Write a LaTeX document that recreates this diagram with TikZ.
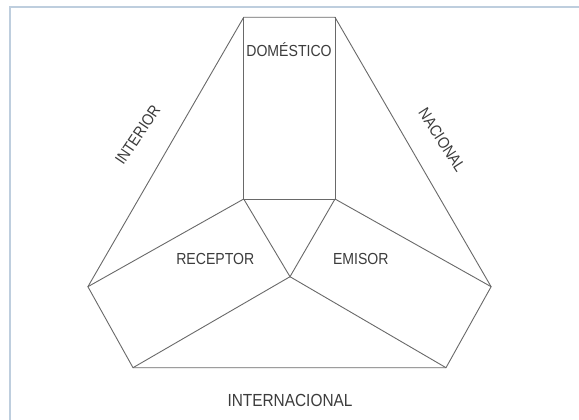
\documentclass[tikz,border=0pt]{standalone}
\usepackage{fontspec}
\setmainfont[FakeStretch=0.88]{Liberation Sans}
\definecolor{edge}{RGB}{105,105,105}
\definecolor{framec}{RGB}{190,206,222}
\definecolor{txt}{RGB}{60,60,60}
\begin{document}
\begin{tikzpicture}[x=1pt,y=-1pt,
  seg/.style={draw=edge,line width=0.9pt,line join=miter},
  lbl/.style={text=txt,font=\fontsize{16}{18}\selectfont,inner sep=0pt}]
\useasboundingbox (0,0) rectangle (579,420);
\fill[white] (0,0) rectangle (579,420);
\draw[framec,line width=1.5pt] (10,420) -- (10,7) -- (579,7);
% vertices
\coordinate (tl) at (243.7,17.3);
\coordinate (tr) at (335,17.3);
\coordinate (rbl) at (243.7,199);
\coordinate (rbr) at (335,199);
\coordinate (c) at (290,276.7);
\coordinate (l) at (87.9,286.7);
\coordinate (r) at (491.1,286.7);
\coordinate (bl) at (133,367.7);
\coordinate (br) at (446,367.7);
% outer outline
\draw[seg] (tl) -- (tr) -- (r) -- (br) -- (bl) -- (l) -- cycle;
% inner lines
\draw[seg] (tl) -- (rbl) -- (rbr) -- (tr);
\draw[seg] (rbl) -- (l);
\draw[seg] (rbr) -- (r);
\draw[seg] (rbl) -- (c) -- (rbr);
\draw[seg] (bl) -- (c) -- (br);
% labels
\node[lbl] (dom) at (289,49.3) {DOMÉSTICO};
\node[lbl] (rec) at (215.3,259.3) {RECEPTOR};
\node[lbl] (emi) at (360.8,259.3) {EMISOR};
\node[lbl,rotate=56] (int) at (137.7,135) {INTERIOR};
\node[lbl,rotate=-57] (nac) at (442,140) {NACIONAL};
\node[lbl,font=\fontsize{17.5}{20}\selectfont] (intl) at (290,400) {INTERNACIONAL};
\end{tikzpicture}
\end{document}
